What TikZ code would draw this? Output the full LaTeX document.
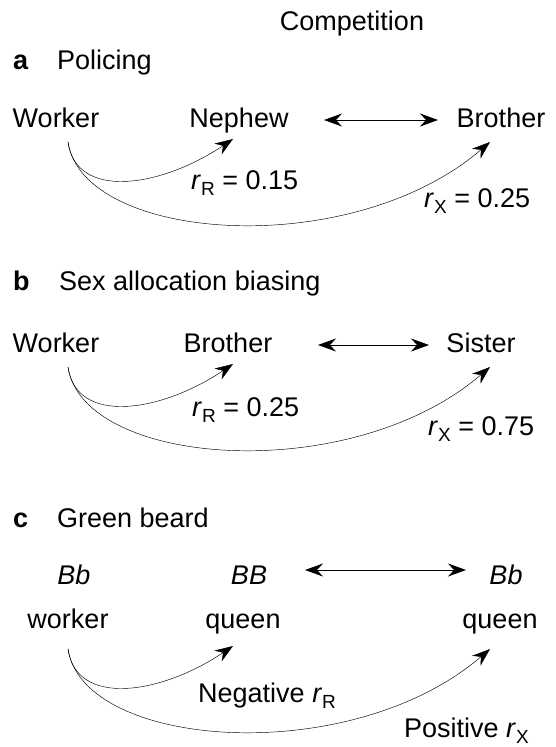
\documentclass[tikz,border=0pt]{standalone}
\usepackage{fontspec}
\setmainfont{Liberation Sans}
\usetikzlibrary{arrows.meta}

\newcommand{\relsub}[1]{\raisebox{-6pt}{\fontsize{19}{22}\selectfont #1}}

\tikzset{
  lbl/.style={font=\fontsize{27}{32}\selectfont, inner sep=0pt, anchor=base},
  tag/.style={lbl, anchor=base west},
  link/.style={line width=0.45pt, -{Stealth[length=18pt,width=13pt,inset=6pt]}},
  rivals/.style={line width=0.8pt, {Stealth[length=18pt,width=13pt,inset=6pt]}-{Stealth[length=18pt,width=13pt,inset=6pt]}}
}

\begin{document}
\begin{tikzpicture}[x=1pt,y=-1pt]
  \useasboundingbox (0,0) rectangle (556,747);

  \node[lbl] (comp) at (352,30) {Competition};

  % a
  \node[tag] (alab) at (13,69) {\textbf{a}};
  \node[tag] (atitle) at (57,69) {Policing};
  \node[lbl] (aworker) at (56,127) {Worker};
  \node[lbl] (anephew) at (239,127) {Nephew};
  \node[lbl] (abrother) at (501,127) {Brother};
  \node[tag] (arr) at (191,189) {\textit{r}\relsub{R} = 0.15};
  \node[tag] (arx) at (424,207) {\textit{r}\relsub{X} = 0.25};
  \coordinate (aleft) at (324,120);
  \coordinate (aright) at (438,120);

  % b
  \node[tag] (blab) at (13,290) {\textbf{b}};
  \node[tag] (btitle) at (59,290) {Sex allocation biasing};
  \node[lbl] (bworker) at (56,352) {Worker};
  \node[lbl] (bbrother) at (228,352) {Brother};
  \node[lbl] (bsister) at (481,352) {Sister};
  \node[tag] (brr) at (192,416) {\textit{r}\relsub{R} = 0.25};
  \node[tag] (brx) at (428,435) {\textit{r}\relsub{X} = 0.75};
  \coordinate (bleft) at (318,345);
  \coordinate (bright) at (429,345);

  % c
  \node[tag] (clab) at (13,527) {\textbf{c}};
  \node[tag] (ctitle) at (57,527) {Green beard};
  \node[lbl] (cgeneA) at (74,584) {\textit{Bb}};
  \node[lbl] (cgeneB) at (249,584) {\textit{BB}};
  \node[lbl] (cgeneC) at (506,584) {\textit{Bb}};
  \node[lbl] (cworker) at (68,628) {worker};
  \node[lbl] (cqueenB) at (243,628) {queen};
  \node[lbl] (cqueenC) at (500,628) {queen};
  \node[tag] (crr) at (198,702) {Negative \textit{r}\relsub{R}};
  \node[tag] (crx) at (404,737) {Positive \textit{r}\relsub{X}};
  \coordinate (cleft) at (305,570);
  \coordinate (cright) at (466,570);

  \foreach \r/\dy in {a/0,b/225,c/507} {
    \coordinate (\r src) at (68,142+\dy);
    \coordinate (\r near) at (233,139+\dy);
    \coordinate (\r far) at (490,142+\dy);
    \draw[link] (\r src) .. controls +(8,58) and +(-73,49) .. (\r near);
    \draw[link] (\r src) .. controls +(15,100) and +(-140,120) .. (\r far);
    \draw[rivals] (\r left) -- (\r right);
  }
\end{tikzpicture}
\end{document}
